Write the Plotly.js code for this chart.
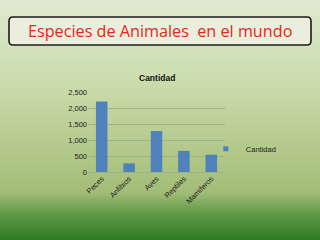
<!DOCTYPE html>
<html><head><meta charset="utf-8">
<script src="https://cdn.plot.ly/plotly-3.0.1.min.js"></script>
<style>
html,body{margin:0;padding:0;}
body{width:320px;height:240px;background:linear-gradient(to bottom,#e0e9d0 0%,#cadcac 35%,#b0c788 65%,#a3bd78 80%,#5f9a45 89%,#2f7a22 100%);}
#c{width:320px;height:240px;}
</style></head><body>
<div id="c"></div>
<script>
var categories = ["Peces","Anfibios","Aves","Reptiles","Mamiferos"];
var values = [2200, 270, 1280, 660, 540];
var seriesName = "Cantidad";
var pageTitle = "Especies de Animales  en el mundo";
var tickVals = [0,500,1000,1500,2000,2500];
var tickText = ["0","500","1,000","1,500","2,000","2,500"];

var bar = {type:"bar", x:categories, y:values, name:seriesName,
  marker:{color:"#4f81bd"}, width:0.42, showlegend:false};
var legendKey = {type:"scatter", mode:"markers", x:[null], y:[null], name:seriesName,
  marker:{color:"#4f81bd", symbol:"square", size:5}, showlegend:true};

var layout = {
  width:320, height:240,
  paper_bgcolor:"rgba(0,0,0,0)", plot_bgcolor:"rgba(0,0,0,0)",
  margin:{l:88, r:95, t:92, b:68},
  font:{family:"Liberation Sans, Arial, sans-serif", size:7, color:"#222"},
  xaxis:{tickangle:-45, showline:false, ticks:"", tickfont:{size:7.5}},
  yaxis:{range:[0,2500], tickvals:tickVals, ticktext:tickText, showgrid:true,
    gridcolor:"#9db385", gridwidth:1, zeroline:true, zerolinecolor:"#9db385",
    ticks:"", tickfont:{size:7.5}},
  showlegend:true,
  legend:{x:0.86, y:0.29, xanchor:"left", yanchor:"middle", bgcolor:"rgba(0,0,0,0)",
    font:{size:7.5}, itemwidth:10, tracegroupgap:0},
  annotations:[
    {text:pageTitle, xref:"paper", yref:"paper", x:0.5, y:31, xanchor:"center", yanchor:"middle",
      showarrow:false, font:{size:16.2, color:"#e8251e", family:"Open Sans, Liberation Sans, sans-serif"}},
    {text:"<b>"+seriesName+"</b>", xref:"paper", yref:"paper", x:0.5, y:1, xanchor:"center", yanchor:"bottom",
      showarrow:false, yshift:7, font:{size:8.5, color:"#111"}}
  ],
  shapes:[]
};

Plotly.newPlot("c",[bar, legendKey],layout,{staticPlot:true}).then(function(gd){
  var fl = gd._fullLayout, s = fl._size;
  function px2x(p){return (p - s.l)/s.w;}
  function py2y(p){return (s.t + s.h - p)/s.h;}
  var x0=px2x(9), x1=px2x(311), y0=py2y(45), y1=py2y(17);
  var r=4, rx=r/s.w, ry=r/s.h;
  var path = "M "+(x0+rx)+" "+y1+" L "+(x1-rx)+" "+y1+" Q "+x1+" "+y1+" "+x1+" "+(y1-ry)+
    " L "+x1+" "+(y0+ry)+" Q "+x1+" "+y0+" "+(x1-rx)+" "+y0+
    " L "+(x0+rx)+" "+y0+" Q "+x0+" "+y0+" "+x0+" "+(y0+ry)+
    " L "+x0+" "+(y1-ry)+" Q "+x0+" "+y1+" "+(x0+rx)+" "+y1+" Z";
  Plotly.relayout(gd,{
    "shapes":[{type:"path", xref:"paper", yref:"paper", path:path, fillcolor:"#e9efdc",
      line:{color:"#1c1c1c", width:1.6}, layer:"below"}],
    "annotations[0].x": px2x(160), "annotations[0].y": py2y(31)
  });
});
</script>
</body></html>
